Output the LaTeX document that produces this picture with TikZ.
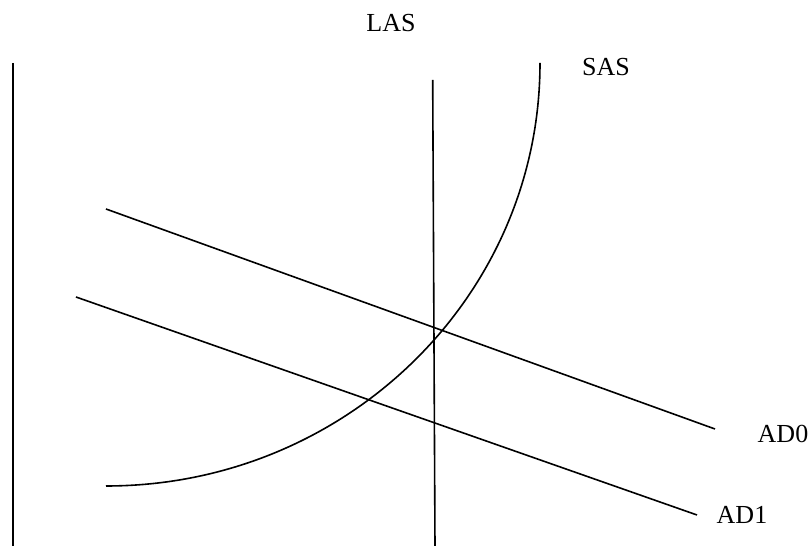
\documentclass[tikz,border=0pt]{standalone}
\usepackage{fontspec}
\setmainfont{Liberation Serif}
\begin{document}
\begin{tikzpicture}[x=0.5pt, y=0.5pt, line width=0.8pt,
  every node/.style={font=\fontsize{13}{15}\selectfont, inner sep=0pt},
  curve/.style={line width=0.8pt}]
\useasboundingbox (0,0) rectangle (811,546);
% price axis
\coordinate (axtop) at (13,483); \coordinate (axbot) at (13,0);
\draw[curve] (axtop) -- (axbot);
% long run supply
\coordinate (lastop) at (432.7,466); \coordinate (lasbot) at (435,0);
\draw[curve] (lastop) -- (lasbot);
\node (las) at (391,523) {LAS};
% short run supply
\coordinate (sasbot) at (106,60);
\draw[curve] (sasbot) arc[start angle=270, end angle=360, x radius=434, y radius=423] coordinate (sastop);
\node (sas) at (606,479) {SAS};
% demand
\coordinate (adzs) at (106,337); \coordinate (adze) at (715,117);
\coordinate (ados) at (76,249);  \coordinate (adoe) at (697,31);
\draw[curve] (adzs) -- (adze); \draw[curve] (ados) -- (adoe);
\node (adz) at (783,112) {AD0};
\node (ado) at (742,31) {AD1};
\end{tikzpicture}
\end{document}
